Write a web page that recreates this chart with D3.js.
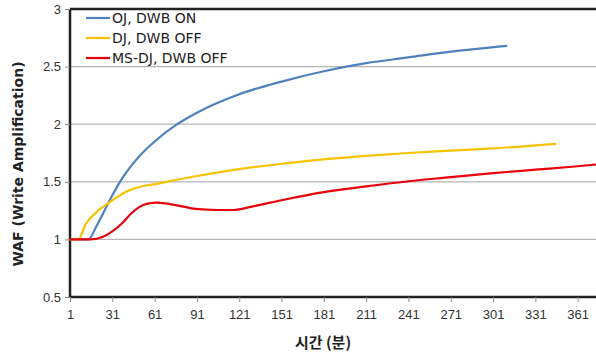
<!DOCTYPE html>
<html>
<head>
<meta charset="utf-8">
<script src="https://cdn.jsdelivr.net/npm/d3@7"></script>
<style>
  body { margin: 0; background: #fff; }
  svg { font-family: 'DejaVu Sans', Verdana, sans-serif; }
</style>
</head>
<body>
<div id="chart"></div>
<script>
const seriesNames = ['OJ, DWB ON', 'DJ, DWB OFF', 'MS-DJ, DWB OFF']
const seriesColors = ['#4f81bd', '#f7c300', '#e8000b']

const ojMinutes = [1, 14, 20, 30, 38, 50, 61, 77, 91, 121, 151, 181, 211, 241, 271, 311]
const ojValues = [1, 1, 1.12, 1.36, 1.53, 1.72, 1.85, 2.0, 2.1, 2.26, 2.37, 2.46, 2.53, 2.58, 2.63, 2.68]

const djMinutes = [1, 7, 12, 20, 30, 40, 50, 61, 91, 121, 151, 181, 211, 241, 271, 301, 346]
const djValues = [1, 1, 1.13, 1.24, 1.33, 1.41, 1.455, 1.48, 1.55, 1.61, 1.655, 1.695, 1.725, 1.75, 1.77, 1.79, 1.83]

const msMinutes = [1, 16, 24, 31, 38, 44, 50, 56, 63, 75, 90, 105, 117, 130, 151, 181, 211, 241, 271, 301, 331, 361, 374]
const msValues = [1, 1, 1.02, 1.07, 1.14, 1.22, 1.28, 1.31, 1.32, 1.3, 1.265, 1.255, 1.255, 1.285, 1.34, 1.41, 1.46, 1.505, 1.54, 1.575, 1.605, 1.635, 1.65]

const xTicks = [1, 31, 61, 91, 121, 151, 181, 211, 241, 271, 301, 331, 361]
const yTicks = [0.5, 1, 1.5, 2, 2.5, 3]

const margin = {top: 9, right: 0, bottom: 58, left: 70}
const W = 596, H = 355
const width = W - margin.left - margin.right
const height = H - margin.top - margin.bottom

const x = d3.scaleLinear().domain([1, 374]).range([0, width])
const y = d3.scaleLinear().domain([0.5, 3]).range([height, 0])

const svg = d3.select('#chart').append('svg')
  .attr('width', W).attr('height', H)
const g = svg.append('g').attr('transform', `translate(${margin.left},${margin.top})`)

// gridlines
g.selectAll('.grid').data(yTicks.filter(d => d > 0.5 && d < 3)).enter()
  .append('line')
    .attr('x1', 0).attr('x2', width)
    .attr('y1', d => y(d)).attr('y2', d => y(d))
    .attr('stroke', '#b4b4b4').attr('stroke-width', 1.3)

// top border
g.append('line')
  .attr('x1', 0).attr('x2', width).attr('y1', 0).attr('y2', 0)
  .attr('stroke', '#222').attr('stroke-width', 2.5)

const yAxis = g.append('g')
  .call(d3.axisLeft(y).tickValues(yTicks).tickFormat(d3.format('')).tickSize(5).tickPadding(4))
const xAxis = g.append('g')
  .attr('transform', `translate(0,${height})`)
  .call(d3.axisBottom(x).tickValues(xTicks).tickSize(5).tickPadding(8))

for (const ax of [xAxis, yAxis]) {
  ax.select('.domain').attr('stroke', '#222').attr('stroke-width', 2.5)
  ax.selectAll('.tick line').attr('stroke', '#888')
  ax.selectAll('.tick text').attr('fill', '#333').style('font-size', '13px')
}
xAxis.select('.domain').attr('d', `M0,0H${width}`)
yAxis.select('.domain').attr('d', `M0,${height}V0`)

const series = [
  {minutes: ojMinutes, values: ojValues},
  {minutes: djMinutes, values: djValues},
  {minutes: msMinutes, values: msValues}
]

const line = d3.line()
  .x(d => x(d[0])).y(d => y(d[1]))
  .curve(d3.curveMonotoneX)

series.forEach((s, i) => {
  g.append('path')
    .datum(d3.zip(s.minutes, s.values))
    .attr('fill', 'none')
    .attr('stroke', seriesColors[i])
    .attr('stroke-width', 2.2)
    .attr('d', line)
})

// legend
const legend = g.append('g').attr('transform', 'translate(16,9)')
seriesNames.forEach((name, i) => {
  const row = legend.append('g').attr('transform', `translate(0,${i * 20})`)
  row.append('line').attr('x1', 0).attr('x2', 24).attr('y1', 0).attr('y2', 0)
    .attr('stroke', seriesColors[i]).attr('stroke-width', 2.2)
  row.append('text').attr('x', 26).attr('dy', '0.35em')
    .style('font-size', '14px').attr('fill', '#222').text(name)
})

// axis titles
svg.append('text')
  .attr('transform', 'translate(23,164) rotate(-90)')
  .attr('text-anchor', 'middle')
  .style('font-size', '14px').style('font-weight', 'bold').attr('fill', '#222')
  .text('WAF (Write Amplification)')

svg.append('text')
  .attr('x', 323).attr('y', 348)
  .attr('text-anchor', 'middle')
  .style('font-family', "'Noto Sans CJK KR', sans-serif")
  .style('font-size', '15px').style('font-weight', 'bold').attr('fill', '#222')
  .text('시간 (분)')
</script>
</body>
</html>
